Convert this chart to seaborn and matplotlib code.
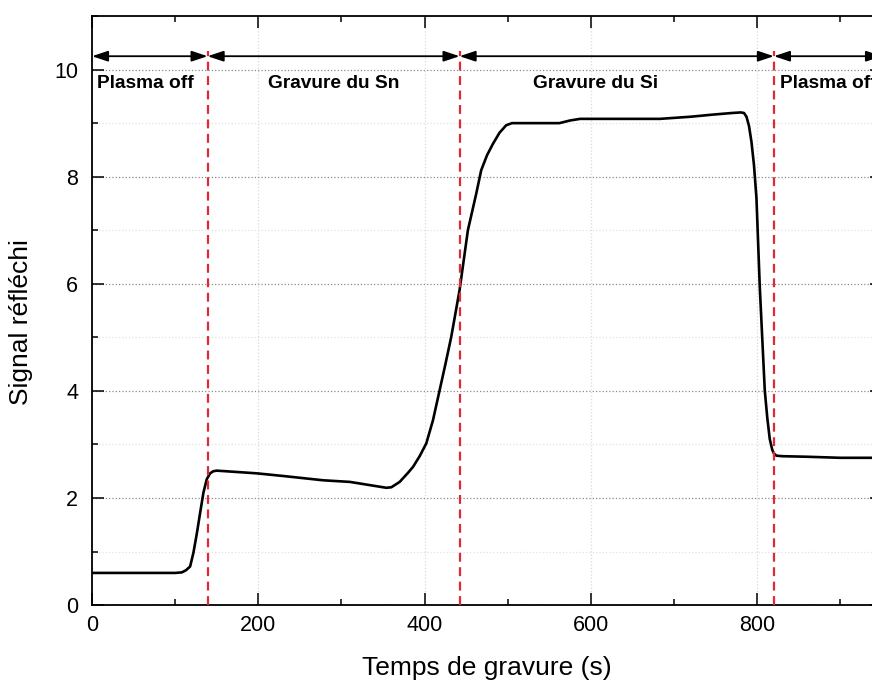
import numpy as np
import pandas as pd
import matplotlib
matplotlib.use('Agg')
import matplotlib.pyplot as plt
from matplotlib.ticker import MultipleLocator
import seaborn as sns

# values
time_s = [0, 50, 100, 108, 113, 118, 122, 126, 130, 134, 138, 142, 146, 150, 160, 198,
          230, 260, 278, 310, 330, 354, 360, 370, 380, 386, 394, 402, 410, 418,
          425, 432, 442, 452, 462, 468, 475, 482, 490, 498, 505, 530, 562, 575,
          587, 620, 683, 720, 747, 770, 780, 784, 787, 790, 793, 796, 799, 803, 809, 812,
          815, 818, 820, 823, 830, 859, 900, 950]
signal = [0.60, 0.60, 0.60, 0.61, 0.65, 0.72, 0.98, 1.33, 1.72, 2.10, 2.35, 2.46, 2.50, 2.51, 2.50, 2.46,
          2.41, 2.36, 2.33, 2.30, 2.25, 2.19, 2.20, 2.30, 2.47, 2.58, 2.78, 3.02, 3.45, 4.01,
          4.50, 5.01, 5.88, 7.00, 7.68, 8.12, 8.40, 8.61, 8.82, 8.96, 9.00, 9.00, 9.00, 9.05,
          9.08, 9.08, 9.08, 9.12, 9.16, 9.19, 9.20, 9.19, 9.12, 8.95, 8.65, 8.22, 7.60, 5.94, 4.01, 3.50,
          3.10, 2.90, 2.83, 2.79, 2.78, 2.77, 2.75, 2.75]

boundaries = [0, 139, 442, 820, 950]
phase_labels = ['Plasma off', 'Gravure du Sn', 'Gravure du Si', 'Plasma off']
label_x = [6, 212, 530, 827]

df = pd.DataFrame({'time': time_s, 'signal': signal})

sns.set_style('ticks')
plt.rcParams['font.family'] = ['Liberation Sans', 'DejaVu Sans']
plt.rcParams.update({'text.color': 'black', 'axes.labelcolor': 'black',
                     'xtick.color': 'black', 'ytick.color': 'black',
                     'axes.edgecolor': 'black'})

fig = plt.figure(figsize=(8.72, 6.86), dpi=100)
ax = fig.add_axes([0.1055, 0.118, 0.906, 0.8586])

sns.lineplot(data=df, x='time', y='signal', color='black', linewidth=1.9, ax=ax)

# phase separators
ax.vlines(boundaries[1:4], 0, 10.35, colors='#dd2a35', linewidth=1.6,
          linestyles=(0, (4, 2.5)), zorder=3)

# double arrows + phase names
for i in range(len(phase_labels)):
    ax.annotate('', xy=(boundaries[i], 10.25), xytext=(boundaries[i + 1], 10.25),
                arrowprops=dict(arrowstyle='<|-|>,head_length=0.6,head_width=0.2',
                                color='black', lw=1.3, mutation_scale=16,
                                shrinkA=0, shrinkB=0))
    ax.text(label_x[i], 9.74, phase_labels[i], fontsize=13.8, fontweight='bold',
            ha='left', va='center')

ax.set_xlim(0, 950)
ax.set_ylim(0, 11)
ax.xaxis.set_major_locator(MultipleLocator(200))
ax.xaxis.set_minor_locator(MultipleLocator(100))
ax.yaxis.set_major_locator(MultipleLocator(2))
ax.yaxis.set_minor_locator(MultipleLocator(1))

ax.grid(which='major', axis='y', linestyle=':', color='#8a8a8a', linewidth=0.9)
ax.grid(which='minor', axis='y', linestyle=':', color='#e2e2e2', linewidth=0.9)
ax.grid(which='major', axis='x', linestyle=':', color='#dadada', linewidth=0.9)

ax.tick_params(which='both', direction='in', top=True, right=True, width=1.1)
ax.tick_params(which='major', length=8.5, labelsize=15.5)
ax.tick_params(which='minor', length=4.5)
ax.tick_params(axis='x', pad=7)
ax.tick_params(axis='y', pad=10)
for s in ax.spines.values():
    s.set_linewidth(1.3)
    s.set_visible(True)

ax.set_xlabel('Temps de gravure (s)', fontsize=19)
ax.set_ylabel('Signal réfléchi', fontsize=19)
ax.xaxis.set_label_coords(0.5, -0.087)
ax.yaxis.set_label_coords(-0.0747, 0.48)

fig.savefig('out.png', dpi=100)
